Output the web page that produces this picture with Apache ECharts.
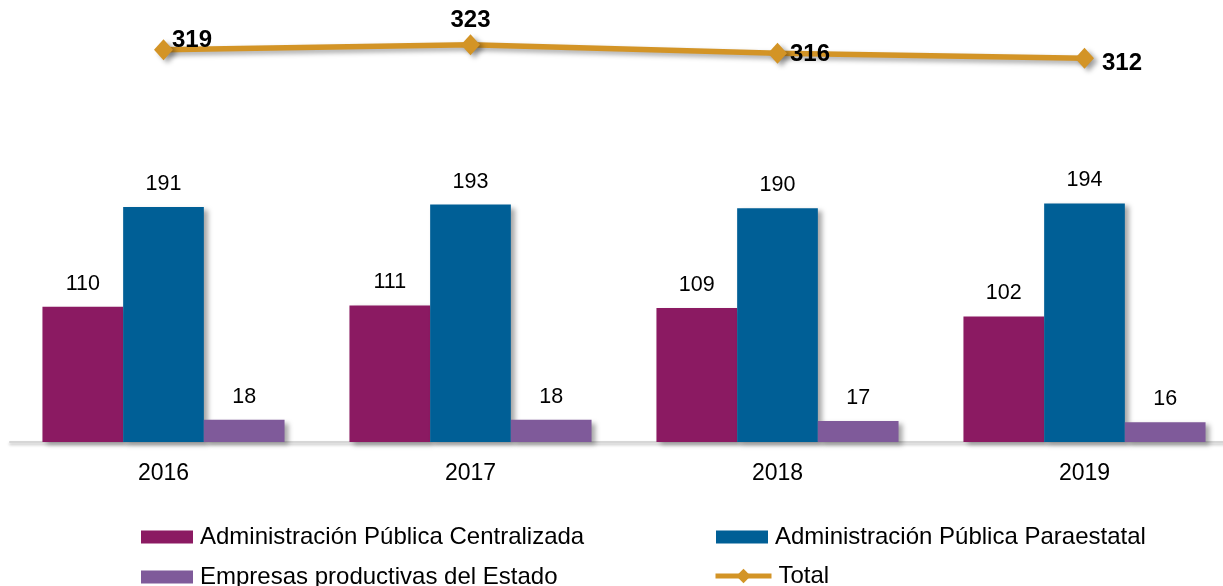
<!DOCTYPE html>
<html>
<head>
<meta charset="utf-8">
<script src="https://cdn.jsdelivr.net/npm/echarts@6/dist/echarts.min.js"></script>
<style>
html,body{margin:0;padding:0;background:#fff;}
#chart{width:1223px;height:586px;}
</style>
</head>
<body>
<div id="chart"></div>
<script>
const categories = ['2016', '2017', '2018', '2019'];
const centralizada = [110, 111, 109, 102];
const paraestatal = [191, 193, 190, 194];
const empresas = [18, 18, 17, 16];
const total = [319, 323, 316, 312];
const seriesNames = ['Administración Pública Centralizada', 'Administración Pública Paraestatal', 'Empresas productivas del Estado', 'Total'];

const FONT = '"Liberation Sans", Arial, sans-serif';
const shadow = { shadowColor: 'rgba(0,0,0,0.35)', shadowBlur: 5, shadowOffsetX: 4, shadowOffsetY: 3 };

const barLabel = { show: true, position: 'top', distance: 12, color: '#000', fontSize: 21.5, fontFamily: FONT };

const totalLabels = [
  { position: 'right', distance: -1, offset: [0, -9] },
  { position: 'top', distance: 2, offset: [0, 0] },
  { position: 'right', distance: 3, offset: [0, 1] },
  { position: 'right', distance: 8, offset: [0, 5] }
];

function mkLegend(name, left, top, icon) {
  const l = {
    data: [name], left: left, top: top, padding: 0,
    itemWidth: 52, itemHeight: 13,
    textStyle: { color: '#000', fontSize: 24, fontFamily: FONT, padding: [0, 0, 0, 2] }
  };
  if (icon) l.icon = icon;
  else { l.lineStyle = { width: 5 }; l.itemHeight = 18; l.itemWidth = 56; }
  return l;
}

const chart = echarts.init(document.getElementById('chart'));
chart.setOption({
  animation: false,
  backgroundColor: '#fff',
  grid: { left: 10, width: 1228, top: 11.5, height: 430.5, containLabel: false, outerBoundsMode: 'none' },
  xAxis: {
    type: 'category',
    data: categories,
    axisLine: { lineStyle: { color: '#d6d6d6', width: 2, shadowColor: 'rgba(0,0,0,0.25)', shadowBlur: 3, shadowOffsetY: 2 } },
    axisTick: { show: false },
    axisLabel: { color: '#000', fontSize: 23, fontFamily: FONT, margin: 20 }
  },
  yAxis: { type: 'value', min: 0, max: 350, show: false, splitLine: { show: false } },
  legend: [
    mkLegend(seriesNames[0], 141, 525, 'rect'),
    mkLegend(seriesNames[1], 716, 525, 'rect'),
    mkLegend(seriesNames[2], 141, 565, 'rect'),
    mkLegend(seriesNames[3], 713, 564, null)
  ],
  series: [
    {
      name: seriesNames[0], type: 'bar', data: centralizada, barWidth: 80.7, barGap: '0%',
      itemStyle: Object.assign({ color: '#8B1A62' }, shadow), label: barLabel
    },
    {
      name: seriesNames[1], type: 'bar', data: paraestatal, barWidth: 80.7, barGap: '0%',
      itemStyle: Object.assign({ color: '#005F96' }, shadow), label: barLabel
    },
    {
      name: seriesNames[2], type: 'bar', data: empresas, barWidth: 80.7, barGap: '0%',
      itemStyle: Object.assign({ color: '#7F5A9A' }, shadow), label: barLabel
    },
    {
      name: seriesNames[3], type: 'line', symbol: 'diamond', symbolSize: [19, 21],
      data: total.map((v, i) => ({ value: v, label: totalLabels[i] })),
      lineStyle: Object.assign({ color: '#D39426', width: 5.5 }, shadow),
      itemStyle: Object.assign({ color: '#D39426' }, shadow),
      label: { show: true, color: '#000', fontSize: 24, fontWeight: 'bold', fontFamily: FONT },
      z: 5
    }
  ]
});
</script>
</body>
</html>
